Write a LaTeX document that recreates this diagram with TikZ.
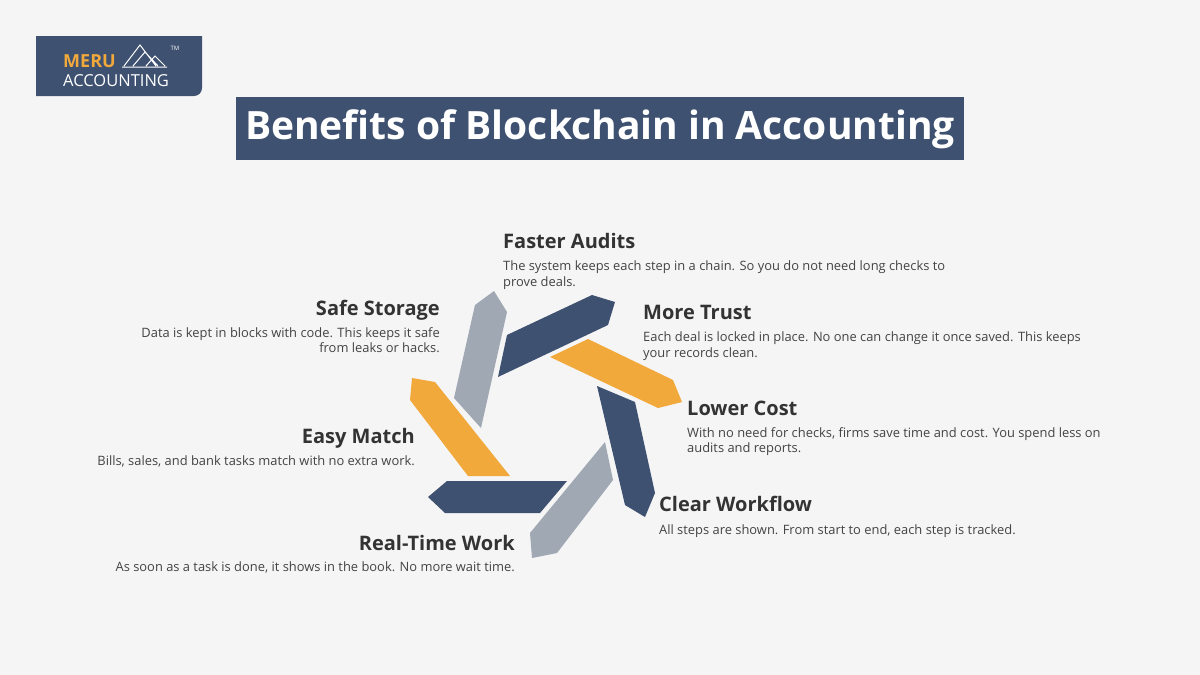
\documentclass[tikz,border=0pt]{standalone}
\usepackage{fontspec}
\setmainfont{Open Sans}
\definecolor{bg}{HTML}{F5F5F6}
\definecolor{navy}{HTML}{3E5171}
\definecolor{grayb}{HTML}{A0A8B3}
\definecolor{orng}{HTML}{F2A93B}
\definecolor{txt}{HTML}{333333}
\definecolor{body}{HTML}{444444}
\tikzset{
 head/.style={font=\fontsize{20}{22}\selectfont\bfseries, text=txt, inner sep=0pt},
 bodyt/.style={font=\fontsize{12.9}{16}\selectfont, text=body, inner sep=0pt},
}
\begin{document}
\begin{tikzpicture}[x=1pt,y=-1pt]
\fill[bg] (0,0) rectangle (1200,675);
\useasboundingbox (0,0) rectangle (1200,675);
% logo
\fill[navy] (36,36) -- (202,36) -- (202,88) arc[start angle=0,end angle=90,radius=8] -- (36,96) -- cycle;
\node[anchor=base west, inner sep=0pt, text=orng, font=\fontsize{18}{18}\selectfont\bfseries] (meru) at (63,67) {MERU};
\node[anchor=base west, inner sep=0pt, text=white, font=\fontsize{16.5}{16}\selectfont] (acc) at (63,86) {ACCOUNTING};
\draw[white, line width=1pt, line join=miter] (124,66) -- (140,45) -- (156,66) (133,66) -- (145,52) -- (158,66) (146,66) -- (155,56) -- (165,66) (122,67)--(167,67);
\node[text=white, font=\fontsize{6}{6}\selectfont, inner sep=0pt] (tm) at (175,48) {TM};
% title
\fill[navy] (236,97) rectangle (964,160);
\node[text=white, font=\fontsize{39}{44}\selectfont\bfseries, inner sep=0pt] (title) at (600,129) {Benefits of Blockchain in Accounting};
% blades
\fill[grayb] (454,398) -- (475,305) -- (494,291) -- (507,312) -- (481,428) -- cycle;
\fill[navy] (498,377) -- (507,335) -- (592,295) -- (615,302) -- (608,325) -- cycle;
\fill[orng] (550,357) -- (588,339) -- (673,380) -- (682,402) -- (658,408) -- cycle;
\fill[navy] (597,386) -- (635,402) -- (655,493) -- (645,517) -- (625,505) -- cycle;
\fill[grayb] (605,442) -- (613,480) -- (557,553) -- (532,558) -- (530,533) -- cycle;
\fill[navy] (567,481) -- (540,513) -- (445,513) -- (428,497) -- (447,481) -- cycle;
\fill[orng] (510,476) -- (468,476) -- (410,400) -- (412,378) -- (435,382) -- cycle;
% texts
\node[head, anchor=base west] (h1) at (503,248) {Faster Audits};
\node[bodyt, anchor=base west] (b1a) at (503,270) {The system keeps each step in a chain. So you do not need long checks to};
\node[bodyt, anchor=base west] (b1b) at (503,286) {prove deals.};
\node[head, anchor=base east] (h2) at (440,315) {Safe Storage};
\node[bodyt, anchor=base east] (b2a) at (440,337) {Data is kept in blocks with code. This keeps it safe};
\node[bodyt, anchor=base east] (b2b) at (440,352) {from leaks or hacks.};
\node[head, anchor=base west] (h3) at (643,319) {More Trust};
\node[bodyt, anchor=base west] (b3a) at (643,341) {Each deal is locked in place. No one can change it once saved. This keeps};
\node[bodyt, anchor=base west] (b3b) at (643,357) {your records clean.};
\node[head, anchor=base west] (h4) at (687,415) {Lower Cost};
\node[bodyt, anchor=base west] (b4a) at (687,437) {With no need for checks, firms save time and cost. You spend less on};
\node[bodyt, anchor=base west] (b4b) at (687,452) {audits and reports.};
\node[head, anchor=base east] (h5) at (415,443) {Easy Match};
\node[bodyt, anchor=base east] (b5) at (415,465) {Bills, sales, and bank tasks match with no extra work.};
\node[head, anchor=base west] (h6) at (659,511) {Clear Workflow};
\node[bodyt, anchor=base west] (b6) at (659,534) {All steps are shown. From start to end, each step is tracked.};
\node[head, anchor=base east] (h7) at (515,550) {Real-Time Work};
\node[bodyt, anchor=base east] (b7) at (515,571) {As soon as a task is done, it shows in the book. No more wait time.};
\end{tikzpicture}
\end{document}
